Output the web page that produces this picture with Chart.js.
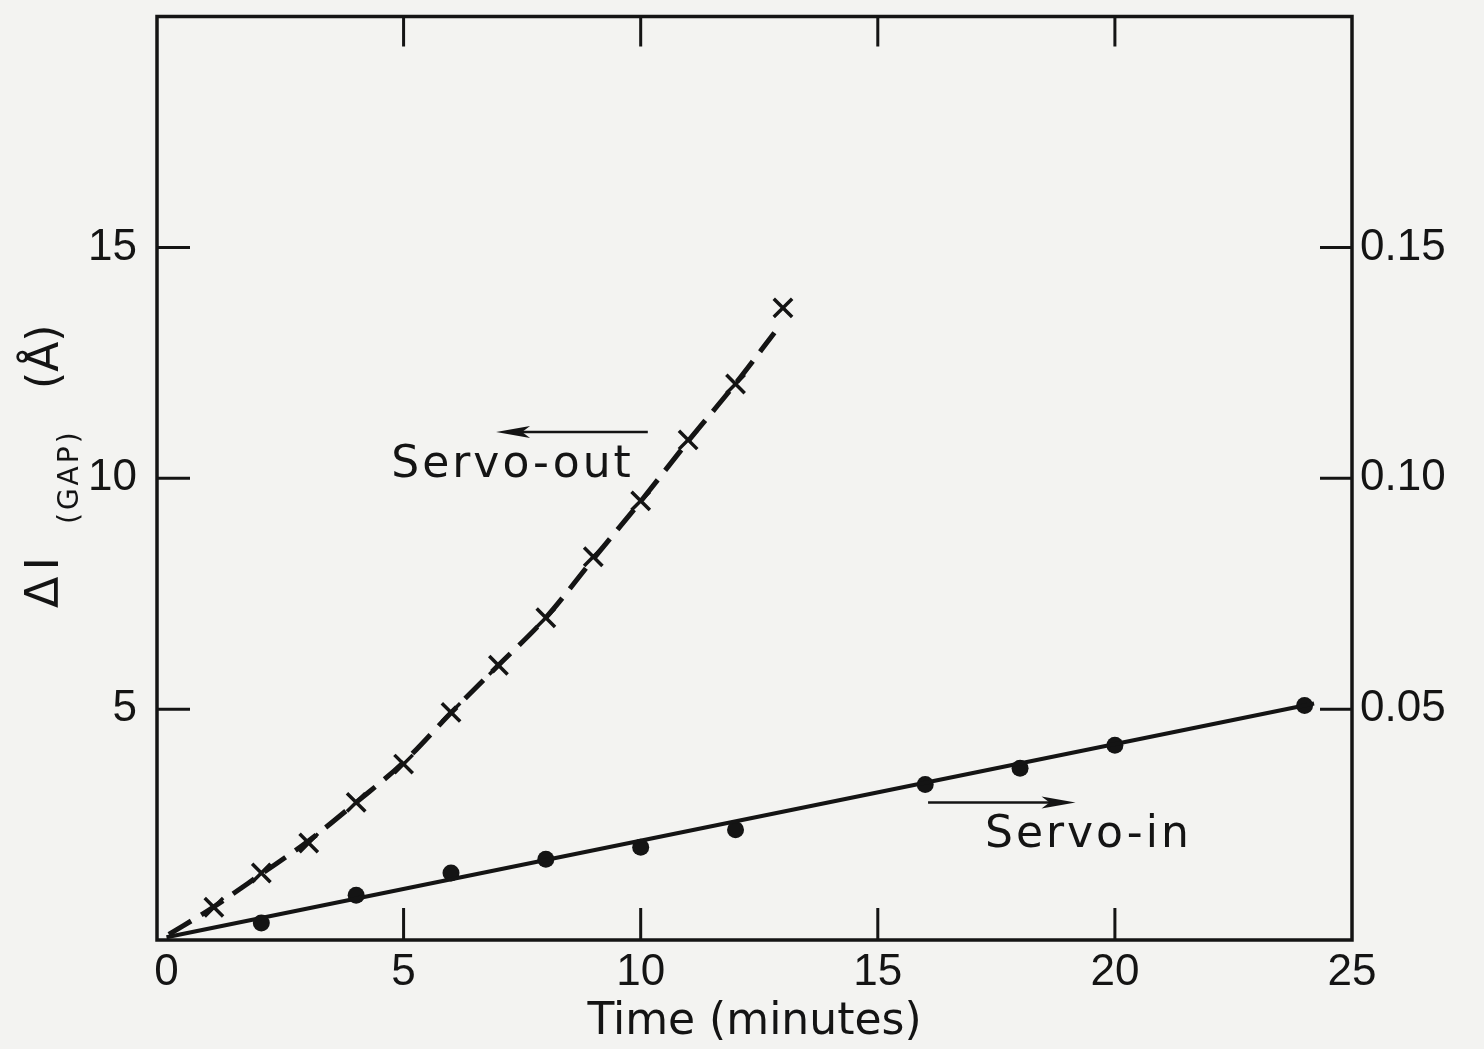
<!DOCTYPE html>
<html>
<head>
<meta charset="utf-8">
<title>Gap change vs time</title>
<script src="https://cdn.jsdelivr.net/npm/chart.js@4.4.1/dist/chart.umd.min.js"></script>
<style>
  html, body { margin: 0; padding: 0; background: #f3f3f1; }
  #wrap { width: 1484px; height: 1049px; position: relative; }
</style>
</head>
<body>
<div id="wrap"><canvas id="gap-chart"></canvas></div>
<script>
// Servo-out run (crosses), minutes vs gap change
const outTime = [1, 2, 3, 4, 5, 6, 7, 8, 9, 10, 11, 12, 13];
const outGap = [0.71, 1.45, 2.10, 2.98, 3.81, 4.93, 5.95, 6.98, 8.30, 9.51, 10.83, 12.04, 13.69];

// dashed curve through the servo-out points
const outFitTime = [0.05, 1, 2, 3, 4, 5, 6, 7, 8, 9, 10, 11, 12, 12.82];
const outFitGap = [0.12, 0.72, 1.43, 2.15, 2.98, 3.85, 4.92, 5.95, 6.98, 8.25, 9.50, 10.80, 12.05, 13.15];

// Servo-in run (dots)
const inTime = [2, 4, 6, 8, 10, 12, 16, 18, 20, 24];
const inGap = [0.37, 0.97, 1.45, 1.75, 2.01, 2.39, 3.37, 3.72, 4.22, 5.08];

// straight line drawn through the servo-in points
const inFitTime = [0, 24.2];
const inFitGap = [0.06, 5.12];

// axis ticks
const timeTicks = [0, 5, 10, 15, 20, 25];
const gapTicks = [5, 10, 15];
const rateTicks = [0.05, 0.10, 0.15];

// arrow labels, placed in data units
const notes = [
  { text: 'Servo-out', at: [4.74, 10.03], from: [10.15, 11.0], to: [6.95, 11.0] },
  { text: 'Servo-in', at: [17.26, 2.01], from: [16.06, 2.98], to: [19.17, 2.98] }
];

const ink = '#141414';
const paper = '#f3f3f1';
const wordFont = '"DejaVu Sans", sans-serif';
const numFont = '"Liberation Sans", Arial, sans-serif';

const toPoints = (xs, ys) => xs.map((x, i) => ({ x: x, y: ys[i] }));

const paperFrame = {
    id: 'paperFrame',
    beforeDraw(chart) {
        const { ctx, width, height } = chart;
        ctx.save();
        ctx.fillStyle = paper;
        ctx.fillRect(0, 0, width, height);
        ctx.restore();
    },
    afterDatasetsDraw(chart) {
        const { ctx, chartArea: a, scales } = chart;
        ctx.save();
        ctx.strokeStyle = ink;
        ctx.fillStyle = ink;
        ctx.lineCap = 'butt';

        // box round the plot
        ctx.lineWidth = 3.5;
        ctx.strokeRect(a.left, a.top, a.right - a.left, a.bottom - a.top);

        // inward ticks on all four sides
        ctx.lineWidth = 3;
        ctx.beginPath();
        timeTicks.filter(v => v > 0 && v < 25).forEach(v => {
            const px = scales.x.getPixelForValue(v);
            ctx.moveTo(px, a.bottom);
            ctx.lineTo(px, a.bottom - 32);
            ctx.moveTo(px, a.top);
            ctx.lineTo(px, a.top + 30);
        });
        gapTicks.forEach(v => {
            const py = scales.y.getPixelForValue(v);
            ctx.moveTo(a.left, py);
            ctx.lineTo(a.left + 33, py);
        });
        rateTicks.forEach(v => {
            const py = scales.y2.getPixelForValue(v);
            ctx.moveTo(a.right, py);
            ctx.lineTo(a.right - 32, py);
        });
        ctx.stroke();

        // labels with arrows
        notes.forEach(n => {
            const x1 = scales.x.getPixelForValue(n.from[0]);
            const x2 = scales.x.getPixelForValue(n.to[0]);
            const yy = scales.y.getPixelForValue(n.from[1]);
            const dir = Math.sign(x2 - x1);
            ctx.lineWidth = 2.5;
            ctx.beginPath();
            ctx.moveTo(x1, yy);
            ctx.lineTo(x2 - dir * 20, yy);
            ctx.stroke();
            ctx.beginPath();
            ctx.moveTo(x2, yy);
            ctx.lineTo(x2 - dir * 34, yy - 6);
            ctx.lineTo(x2 - dir * 26, yy);
            ctx.lineTo(x2 - dir * 34, yy + 6);
            ctx.closePath();
            ctx.fill();

            ctx.font = '44px ' + wordFont;
            ctx.letterSpacing = '3px';
            ctx.textAlign = 'left';
            ctx.textBaseline = 'alphabetic';
            ctx.fillText(n.text, scales.x.getPixelForValue(n.at[0]), scales.y.getPixelForValue(n.at[1]));
        });

        // y title: ΔI with a (GAP) subscript, then (Å)
        ctx.translate(a.left - 99, a.bottom - 332);
        ctx.rotate(-Math.PI / 2);
        ctx.textAlign = 'left';
        ctx.textBaseline = 'alphabetic';
        ctx.font = '46px ' + wordFont;
        ctx.letterSpacing = '6px';
        ctx.fillText('ΔI', 0, 0);
        ctx.font = '28px ' + wordFont;
        ctx.letterSpacing = '3px';
        ctx.fillText('(GAP)', 84, 20);
        ctx.font = '44px ' + wordFont;
        ctx.letterSpacing = '0px';
        ctx.fillText('(Å)', 219, 0);
        ctx.restore();
    }
};

new Chart(document.getElementById('gap-chart'), {
    type: 'scatter',
    data: {
        datasets: [
            {
                label: 'Servo-out curve',
                data: toPoints(outFitTime, outFitGap),
                showLine: true,
                borderColor: ink,
                borderWidth: 5,
                borderDash: [26, 12],
                pointRadius: 0,
                cubicInterpolationMode: 'monotone',
                fill: false
            },
            {
                label: 'Servo-out',
                data: toPoints(outTime, outGap),
                showLine: false,
                pointStyle: 'crossRot',
                pointRadius: 13,
                pointBorderWidth: 3.5,
                borderColor: ink,
                backgroundColor: ink
            },
            {
                label: 'Servo-in line',
                data: toPoints(inFitTime, inFitGap),
                showLine: true,
                borderColor: ink,
                borderWidth: 4,
                pointRadius: 0,
                fill: false
            },
            {
                label: 'Servo-in',
                data: toPoints(inTime, inGap),
                showLine: false,
                pointStyle: 'circle',
                pointRadius: 8.5,
                pointBorderWidth: 0,
                borderColor: ink,
                backgroundColor: ink
            }
        ]
    },
    options: {
        responsive: true,
        maintainAspectRatio: false,
        animation: false,
        events: [],
        layout: { padding: { top: 14, left: 0, right: 0, bottom: 0 } },
        plugins: {
            legend: { display: false },
            tooltip: { enabled: false }
        },
        scales: {
            x: {
                type: 'linear',
                position: 'bottom',
                min: -0.2,
                max: 25,
                afterBuildTicks: s => { s.ticks = timeTicks.map(v => ({ value: v })); },
                afterFit: s => { s.height = 109; s.paddingLeft = 0; s.paddingRight = 0; },
                grid: { display: false, drawTicks: false },
                border: { display: false },
                ticks: {
                    color: ink,
                    font: { family: numFont, size: 44 },
                    padding: 6,
                    maxRotation: 0,
                    autoSkip: false
                },
                title: {
                    display: true,
                    text: 'Time (minutes)',
                    color: ink,
                    font: { family: wordFont, size: 44, lineHeight: 1.2 },
                    padding: { top: 0, bottom: 0 }
                }
            },
            y: {
                type: 'linear',
                position: 'left',
                min: 0,
                max: 20,
                afterBuildTicks: s => { s.ticks = gapTicks.map(v => ({ value: v })); },
                afterFit: s => { s.width = 157; s.paddingTop = 0; s.paddingBottom = 0; },
                grid: { display: false, drawTicks: false },
                border: { display: false },
                ticks: {
                    color: ink,
                    font: { family: numFont, size: 44 },
                    padding: 20
                }
            },
            y2: {
                type: 'linear',
                position: 'right',
                min: 0,
                max: 0.20,
                afterBuildTicks: s => { s.ticks = rateTicks.map(v => ({ value: v })); },
                afterFit: s => { s.width = 132; s.paddingTop = 0; s.paddingBottom = 0; },
                grid: { display: false, drawTicks: false },
                border: { display: false },
                ticks: {
                    color: ink,
                    font: { family: numFont, size: 44 },
                    padding: 8,
                    callback: v => v.toFixed(2)
                }
            }
        }
    },
    plugins: [paperFrame]
});
</script>
</body>
</html>
